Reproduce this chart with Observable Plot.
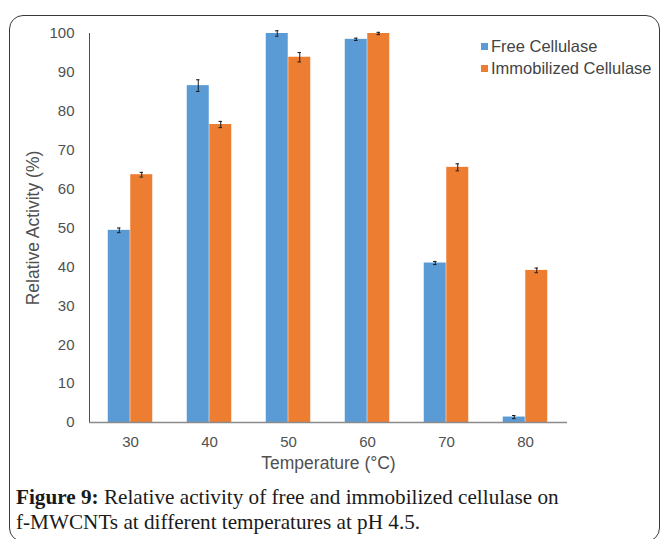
<!DOCTYPE html>
<html>
<head>
<meta charset="utf-8">
<script src="https://cdn.jsdelivr.net/npm/d3@7"></script>
<script src="https://cdn.jsdelivr.net/npm/@observablehq/plot@0.6"></script>
<style>
html, body { margin: 0; padding: 0; background: #fff; }
#wrap { position: relative; width: 662px; height: 539px; overflow: hidden; background: #fff; }
#frame { position: absolute; left: 9px; top: 15px; width: 651px; height: 527px; box-sizing: border-box;
  border: 1.5px solid #3a3a3a; border-radius: 14px; z-index: 2; pointer-events: none; }
#chart { position: absolute; left: 0; top: 0; }
#legend { position: absolute; left: 481px; top: 35px; }
#legend [class$="-swatch"] { line-height: 22px; padding-bottom: 0 !important; }
#legend [class$="-swatch"] > svg { margin-right: 3px !important; }
#caption { position: absolute; left: 16px; top: 485px; font-family: "Liberation Serif", "Times New Roman", serif;
  font-size: 21.2px; line-height: 25px; color: #1a1a1a; white-space: nowrap; }
#chart g[aria-label="x-axis label"] text, #chart g[aria-label="y-axis label"] text { font-size: 17.5px; }
</style>
</head>
<body>
<div id="wrap">
  <div id="chart"></div>
  <div id="legend"></div>
  <div id="caption"><b>Figure 9:</b> Relative activity of free and immobilized cellulase on<br>f-MWCNTs at different temperatures at pH 4.5.</div>
  <div id="frame"></div>
</div>
<script>
// ---- data ----
const temperatures = ["30", "40", "50", "60", "70", "80"];
const seriesNames = ["Free Cellulase", "Immobilized Cellulase"];
const freeActivity = [49.4, 86.6, 100, 98.5, 41.0, 1.4];
const freeError = [0.6, 1.5, 0.7, 0.3, 0.4, 0.4];
const immobilizedActivity = [63.7, 76.6, 93.9, 100, 65.6, 39.1];
const immobilizedError = [0.6, 0.8, 1.2, 0.3, 0.9, 0.6];
const yTicks = [0, 10, 20, 30, 40, 50, 60, 70, 80, 90, 100];
const seriesColors = ["#5b9bd5", "#ed7d31"];

const freeRows = temperatures.map((t, i) => ({temp: t, series: seriesNames[0], value: freeActivity[i], err: freeError[i]}));
const immRows = temperatures.map((t, i) => ({temp: t, series: seriesNames[1], value: immobilizedActivity[i], err: immobilizedError[i]}));

const errStroke = "#1a1a1a";
function seriesMarks(rows, dx) {
  return [
    Plot.barY(rows, {x: "temp", y: "value", fill: "series", dx}),
    Plot.ruleX(rows, {x: "temp", y1: d => d.value - d.err, y2: d => d.value + d.err, dx, stroke: errStroke, strokeWidth: 1}),
    Plot.tickY(rows, {x: "temp", y: d => d.value + d.err, dx, insetLeft: 9.25, insetRight: 9.25, stroke: errStroke, strokeWidth: 1}),
    Plot.tickY(rows, {x: "temp", y: d => d.value - d.err, dx, insetLeft: 9.25, insetRight: 9.25, stroke: errStroke, strokeWidth: 1})
  ];
}

const chart = Plot.plot({
  width: 662,
  height: 477,
  marginLeft: 89,
  marginRight: 95,
  marginTop: 33,
  marginBottom: 55,
  style: {fontFamily: "'Liberation Sans', Arial, sans-serif", fontSize: "15px", color: "#505050", background: "transparent"},
  x: {domain: temperatures, paddingInner: 0.7176, paddingOuter: 0.3588, tickSize: 0, tickPadding: 14,
      label: "Temperature (°C)", labelAnchor: "center", labelOffset: 46, labelArrow: "none"},
  y: {domain: [0, 100], ticks: yTicks, tickSize: 0, tickPadding: 15,
      label: "Relative Activity (%)", labelAnchor: "center", labelOffset: 63, labelArrow: "none", line: true},
  color: {domain: seriesNames, range: seriesColors},
  marks: [
    ...seriesMarks(freeRows, -11.25),
    ...seriesMarks(immRows, 11.25),
    Plot.ruleY([0], {stroke: "#8a8a8a", strokeWidth: 1.5})
  ]
});
document.getElementById("chart").appendChild(chart);

const legend = Plot.legend({
  color: {domain: seriesNames, range: seriesColors},
  legend: "swatches",
  columns: 1,
  swatchSize: 7,
  style: {fontFamily: "'Liberation Sans', Arial, sans-serif", fontSize: "16.5px", color: "#444", background: "transparent"}
});
document.getElementById("legend").appendChild(legend);
</script>
</body>
</html>
